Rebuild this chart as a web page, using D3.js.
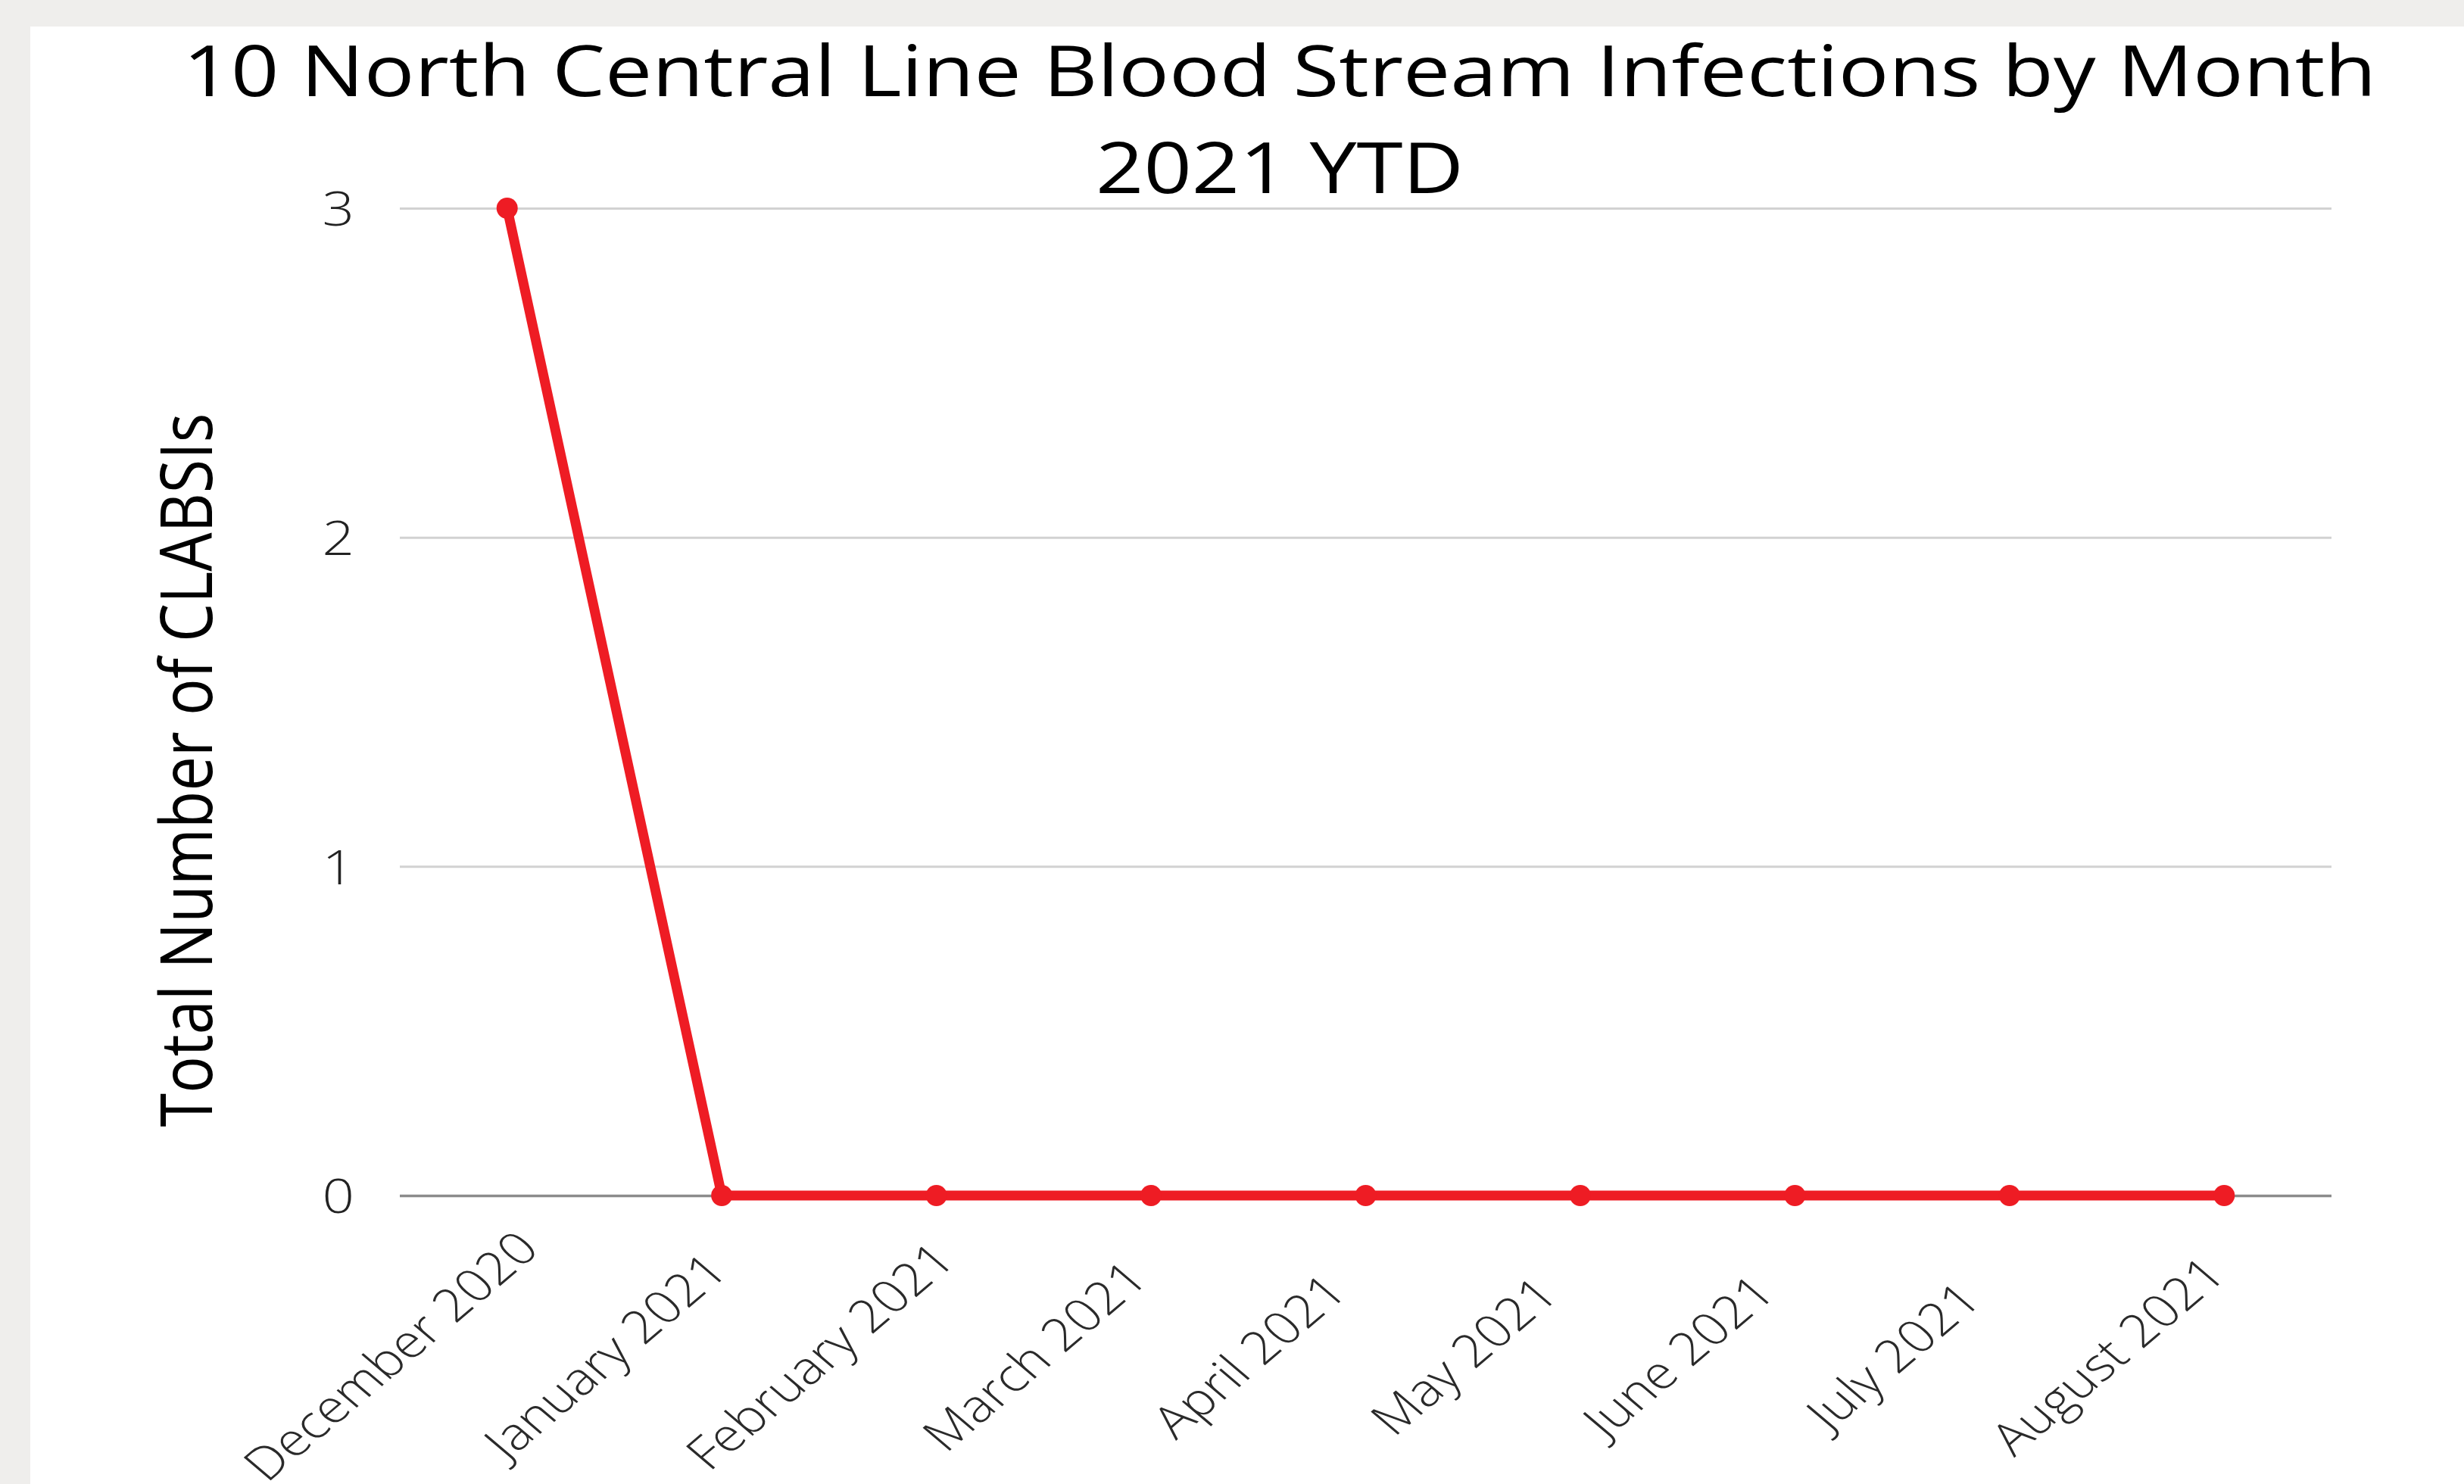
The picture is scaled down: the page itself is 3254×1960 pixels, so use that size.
<!DOCTYPE html>
<html>
<head>
<meta charset="utf-8">
<script src="https://cdn.jsdelivr.net/npm/d3@7"></script>
<style>
  html, body { margin: 0; padding: 0; background: #efeeec; }
  svg { display: block; }
  text { font-family: "Open Sans", "Noto Sans", sans-serif; }
</style>
</head>
<body>
<div id="chart"></div>
<script>
// chart data
const months = ["December 2020", "January 2021", "February 2021", "March 2021", "April 2021",
                "May 2021", "June 2021", "July 2021", "August 2021"];
const clabsiCounts = [3, 0, 0, 0, 0, 0, 0, 0, 0];
const yTicks = [0, 1, 2, 3];
const titleLines = ["10 North Central Line Blood Stream Infections by Month", "2021 YTD"];
const yTitle = "Total Number of CLABSIs";

document.addEventListener("DOMContentLoaded", function() {
    const W = 3254, H = 1960;
    const stretch = 1.18; // the original picture is a bit wider than tall

    const plot = { left: 528, right: 3079, top: 275, bottom: 1579 };

    const svg = d3.select("#chart").append("svg")
        .attr("width", W)
        .attr("height", H);

    svg.append("rect")
        .attr("x", 40).attr("y", 35)
        .attr("width", W - 40).attr("height", H - 35)
        .attr("fill", "#ffffff");

    const x = d3.scalePoint()
        .domain(months)
        .range([plot.left, plot.right])
        .padding(0.5);

    const y = d3.scaleLinear()
        .domain([0, 3])
        .range([plot.bottom, plot.top]);

    // title
    svg.append("g").selectAll("text")
        .data(titleLines)
        .enter().append("text")
        .attr("transform", (d, i) => `translate(1690,${127 + i * 128}) scale(${stretch},1)`)
        .attr("text-anchor", "middle")
        .attr("font-size", "94px")
        .attr("fill", "#000")
        .text(d => d);

    // y axis with gridlines
    const yAxis = svg.append("g")
        .attr("transform", `translate(${plot.left},0)`)
        .call(d3.axisLeft(y)
            .tickValues(yTicks)
            .tickFormat(d3.format("d"))
            .tickSize(-(plot.right - plot.left))
            .tickPadding(60));

    yAxis.select(".domain").remove();
    yAxis.selectAll(".tick line")
        .attr("stroke", d => d === 0 ? "#8c8c8c" : "#d2d2d2")
        .attr("stroke-width", d => d === 0 ? 3.5 : 3);
    yAxis.selectAll(".tick text")
        .attr("x", null)
        .attr("dy", "0.36em")
        .attr("transform", `translate(-60,0) scale(${stretch},1)`)
        .attr("font-family", "'Open Sans', sans-serif")
        .attr("font-size", "63px")
        .attr("font-weight", 300)
        .attr("fill", "#222");

    // x axis labels
    const xAxis = svg.append("g")
        .attr("transform", `translate(0,${plot.bottom})`)
        .call(d3.axisBottom(x).tickSize(0));

    xAxis.select(".domain").remove();
    xAxis.selectAll(".tick text")
        .attr("y", null)
        .attr("dy", "0.35em")
        .attr("text-anchor", "middle")
        .attr("transform", `translate(-154,212) scale(${stretch},1) rotate(-45)`)
        .attr("font-family", "'Open Sans', sans-serif")
        .attr("font-size", "60px")
        .attr("font-weight", 300)
        .attr("fill", "#2a2a2a");

    // y axis title
    svg.append("text")
        .attr("transform", `translate(280,1017) scale(${stretch},1) rotate(-90)`)
        .attr("text-anchor", "middle")
        .attr("font-size", "81px")
        .attr("fill", "#000")
        .text(yTitle);

    // series
    const series = months.map((m, i) => ({ month: m, value: clabsiCounts[i] }));

    const line = d3.line()
        .x(d => x(d.month))
        .y(d => y(d.value));

    svg.append("path")
        .datum(series)
        .attr("d", line)
        .attr("fill", "none")
        .attr("stroke", "#ee1c24")
        .attr("stroke-width", 13)
        .attr("stroke-linejoin", "round");

    svg.append("g").selectAll("circle")
        .data(series)
        .enter().append("circle")
        .attr("cx", d => x(d.month))
        .attr("cy", d => y(d.value))
        .attr("r", 14)
        .attr("fill", "#ee1c24");
});
</script>
</body>
</html>
